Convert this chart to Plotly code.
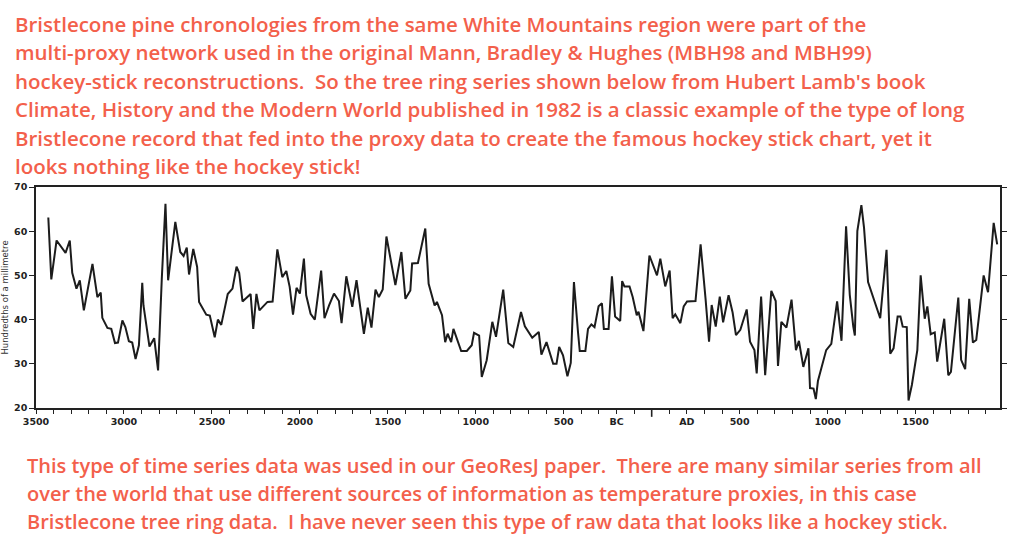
import plotly.graph_objects as go

years = [
    -3430, -3413, -3383, -3332, -3308, -3294, -3270, -3251, -3228, -3204,
    -3179, -3151, -3132, -3123, -3094, -3072, -3051, -3034, -3009, -2992,
    -2972, -2953, -2934, -2915, -2896, -2889, -2855, -2828, -2806, -2785,
    -2764, -2749, -2708, -2680, -2661, -2643, -2630, -2606, -2584, -2573,
    -2550, -2532, -2512, -2484, -2466, -2447, -2410, -2383, -2360, -2345,
    -2326, -2280, -2265, -2247, -2230, -2184, -2155, -2128, -2100, -2077,
    -2058, -2039, -2019, -2000, -1977, -1964, -1939, -1915, -1879, -1860,
    -1834, -1806, -1778, -1763, -1736, -1702, -1678, -1636, -1614, -1593,
    -1570, -1551, -1529, -1508, -1457, -1423, -1400, -1372, -1362, -1329,
    -1287, -1268, -1234, -1221, -1192, -1174, -1160, -1140, -1127, -1083,
    -1051, -1023, -1010, -981, -966, -938, -906, -885, -844, -815,
    -787, -743, -721, -679, -642, -627, -598, -560, -541, -526,
    -504, -479, -460, -442, -419, -409, -377, -362, -343, -325,
    -302, -283, -272, -245, -226, -208, -179, -168, -155, -126,
    -108, -85, -75, -47, -13, 30, 49, 77, 102, 119,
    134, 163, 182, 201, 249, 278, 306, 326, 341, 364,
    387, 406, 437, 460, 479, 504, 540, 559, 584, 597,
    622, 645, 680, 705, 718, 737, 766, 795, 820, 837,
    862, 891, 900, 920, 933, 945, 992, 1021, 1054, 1079,
    1105, 1126, 1146, 1155, 1169, 1192, 1207, 1230, 1299, 1335,
    1356, 1375, 1398, 1414, 1427, 1450, 1460, 1479, 1510, 1529,
    1552, 1567, 1586, 1609, 1623, 1663, 1686, 1701, 1743, 1759,
    1782, 1805, 1826, 1845, 1887, 1912, 1944, 1964,
]
widths = [
    63.1, 49.1, 57.9, 55.1, 57.9, 50.6, 47.0, 48.9, 42.1, 47.0,
    52.6, 45.1, 46.1, 40.4, 38.1, 37.9, 34.7, 34.8, 39.8, 38.3,
    35.1, 34.8, 31.1, 34.2, 48.3, 43.2, 33.9, 35.8, 28.5, 49.2,
    66.2, 48.9, 62.1, 55.3, 54.4, 56.3, 50.2, 56.0, 51.9, 44.0,
    42.3, 41.1, 40.9, 36.0, 40.0, 38.8, 45.8, 47.0, 52.0, 50.6,
    44.1, 45.8, 37.9, 45.8, 42.1, 44.0, 44.1, 55.9, 49.6, 51.0,
    47.4, 41.1, 47.2, 45.9, 53.8, 45.5, 41.3, 40.0, 51.1, 40.3,
    43.2, 45.9, 44.2, 39.2, 49.8, 42.9, 48.9, 36.8, 42.7, 38.2,
    46.8, 45.1, 46.8, 58.8, 47.8, 55.3, 44.7, 46.6, 52.7, 52.8,
    60.6, 48.1, 43.2, 44.0, 41.0, 34.9, 36.8, 34.9, 37.9, 32.9,
    32.9, 34.2, 37.0, 36.4, 27.0, 30.8, 39.5, 36.1, 46.8, 34.7,
    33.8, 41.7, 38.5, 35.9, 37.2, 32.1, 34.9, 30.0, 30.0, 33.8,
    31.9, 27.2, 30.2, 48.5, 37.2, 32.9, 32.9, 37.9, 38.9, 38.3,
    43.0, 43.7, 37.9, 37.9, 49.8, 40.7, 39.7, 48.7, 47.5, 47.5,
    45.1, 41.0, 41.8, 37.4, 54.5, 50.0, 53.8, 47.5, 51.1, 40.3,
    41.2, 39.2, 43.0, 44.1, 44.2, 57.0, 44.8, 35.0, 43.3, 38.4,
    45.2, 39.4, 45.5, 41.6, 36.5, 37.7, 42.3, 35.0, 33.1, 27.8,
    45.2, 27.4, 46.5, 44.2, 29.5, 39.5, 38.2, 44.5, 33.1, 35.2,
    29.3, 33.5, 24.5, 24.4, 22.0, 26.1, 33.1, 34.5, 44.1, 35.2,
    61.1, 45.6, 38.4, 36.4, 60.0, 65.9, 60.8, 48.5, 40.3, 55.8,
    32.3, 33.5, 40.7, 40.7, 38.4, 38.3, 21.7, 25.2, 33.1, 50.0,
    40.2, 43.0, 36.7, 37.1, 30.5, 40.2, 27.4, 28.2, 45.0, 30.9,
    28.8, 44.7, 34.8, 35.4, 50.0, 46.2, 61.9, 57.0,
]

tick_years = [-3500, -3000, -2500, -2000, -1500, -1000, -500, -200, 200, 500, 1000, 1500]
tick_labels = ["3500", "3000", "2500", "2000", "1500", "1000", "500", "BC", "AD", "500", "1000", "1500"]

top_lines = [
    "Bristlecone pine chronologies from the same White Mountains region were part of the",
    "multi-proxy network used in the original Mann, Bradley & Hughes (MBH98 and MBH99)",
    "hockey-stick reconstructions.\u00a0 So the tree ring series shown below from Hubert Lamb's book",
    "Climate, History and the Modern World published in 1982 is a classic example of the type of long",
    "Bristlecone record that fed into the proxy data to create the famous hockey stick chart, yet it",
    "looks nothing like the hockey stick!",
]
bottom_lines = [
    "This type of time series data was used in our GeoResJ paper.\u00a0 There are many similar series from all",
    "over the world that use different sources of information as temperature proxies, in this case",
    "Bristlecone tree ring data.\u00a0 I have never seen this type of raw data that looks like a hockey stick.",
]

CORAL = "#F3604B"
L, R, T, B = 36, 1000, 187, 408  # plot box in pixels


def to_paper(xp, yp):
    return (xp - L) / (R - L), (B - yp) / (B - T)


fig = go.Figure()
fig.add_trace(go.Scatter(x=years, y=widths, mode="lines",
                         line=dict(color="#1c1c1c", width=2),
                         hoverinfo="skip", showlegend=False))

annots = []
for i, txt in enumerate(top_lines):
    px, py = to_paper(13, 24 + i * 28.4)
    annots.append(dict(text=txt, x=px, y=py, xref="paper", yref="paper",
                       xanchor="left", yanchor="middle", showarrow=False,
                       font=dict(family="Open Sans", size=20.5, weight=600, color=CORAL)))
for i, txt in enumerate(bottom_lines):
    px, py = to_paper(25, 465 + i * 28.2)
    annots.append(dict(text=txt, x=px, y=py, xref="paper", yref="paper",
                       xanchor="left", yanchor="middle", showarrow=False,
                       font=dict(family="Open Sans", size=20, weight=600, color=CORAL)))

axis_font = dict(family="DejaVu Sans", size=9.5, weight="bold", color="#222")

fig.update_layout(
    width=1024, height=538,
    margin=dict(l=L, r=1024 - R, t=T, b=538 - B),
    paper_bgcolor="white", plot_bgcolor="white",
    annotations=annots,
    # the long tick marking the BC/AD boundary
    shapes=[dict(type="line", xref="x", yref="paper", x0=0, x1=0, y0=0, y1=-0.04,
                 line=dict(color="#222", width=1.6))],
)
fig.update_xaxes(
    range=[-3500, 1980], tickvals=tick_years, ticktext=tick_labels,
    ticks="outside", ticklen=4, tickwidth=1.2, tickcolor="#222",
    minor=dict(dtick=100, tick0=0, ticks="outside", ticklen=4, tickwidth=1.2, tickcolor="#222"),
    showline=True, linecolor="#222", linewidth=1.5, mirror=True,
    showgrid=False, zeroline=False, tickfont=axis_font, automargin=False,
)
fig.update_yaxes(
    range=[20, 70], dtick=10, tick0=20,
    ticks="outside", ticklen=5, tickwidth=1.2, tickcolor="#222",
    showline=True, linecolor="#222", linewidth=1.5, mirror="ticks",
    showgrid=False, zeroline=False, tickfont=axis_font, automargin=False,
    title=dict(text="Hundredths of a millimetre", standoff=4,
               font=dict(family="DejaVu Sans", size=8.5, color="#333")),
)

# drop the browser's default body margin so the figure fills the window
fig.write_html("out.html", config={"displayModeBar": False},
               post_script="document.body.style.margin = '0';")
